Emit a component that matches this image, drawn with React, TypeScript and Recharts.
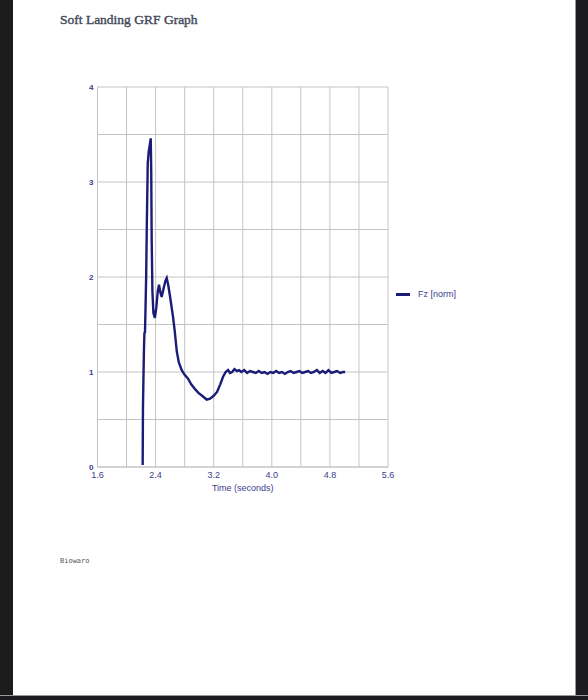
import React from 'react';
import { LineChart, Line, XAxis, YAxis, CartesianGrid } from 'recharts';

const chartTitle = 'Soft Landing GRF Graph';
const seriesName = 'Fz [norm]';
const xAxisTitle = 'Time (seconds)';
const footerText = 'Biowaro';

const timeValues = [
  2.222, 2.226, 2.232, 2.24, 2.246, 2.254, 2.262, 2.27, 2.28, 2.292, 2.305, 2.322, 2.333, 2.34, 2.346,
  2.356, 2.37, 2.39, 2.41, 2.43, 2.447, 2.465, 2.484, 2.51, 2.535, 2.553, 2.575, 2.6, 2.64, 2.665,
  2.691, 2.72, 2.76, 2.8, 2.847, 2.89, 2.943, 2.99, 3.04, 3.104, 3.15, 3.2, 3.246, 3.29, 3.329,
  3.365, 3.398, 3.425, 3.453, 3.485, 3.521, 3.55, 3.58, 3.62, 3.66, 3.7, 3.74, 3.78, 3.82, 3.86,
  3.9, 3.94, 3.98, 4.02, 4.06, 4.1, 4.14, 4.18, 4.22, 4.26, 4.3, 4.34, 4.38, 4.42, 4.46,
  4.5, 4.54, 4.58, 4.62, 4.66, 4.7, 4.74, 4.78, 4.82, 4.86, 4.9, 4.94, 4.98, 5.01,
];

const fzValues = [
  0.02, 0.63, 0.9, 1.25, 1.41, 1.42, 1.7, 2.0, 2.6, 3.2, 3.32, 3.4, 3.46, 3.1, 2.4,
  1.85, 1.62, 1.57, 1.68, 1.85, 1.92, 1.84, 1.79, 1.88, 1.96, 1.99, 1.91, 1.79, 1.58, 1.42,
  1.22, 1.1, 1.02, 0.97, 0.93, 0.87, 0.82, 0.78, 0.75, 0.71, 0.72, 0.75, 0.79, 0.87, 0.95,
  1.0, 1.02, 0.99, 1.0, 1.03, 1.01, 1.02, 1.0, 1.02, 0.99, 1.01, 1.0, 0.99, 1.01, 0.99,
  1.0, 0.98, 1.0, 0.99, 1.01, 0.99, 1.0, 0.98, 1.0, 1.01, 0.99, 1.0, 1.01, 0.99, 1.0,
  1.01, 0.99, 1.0, 1.02, 0.99, 1.01, 0.99, 1.02, 0.99, 1.0, 1.01, 0.99, 1.0, 1.0,
];

const xTicks = [1.6, 2.0, 2.4, 2.8, 3.2, 3.6, 4.0, 4.4, 4.8, 5.2, 5.6];
const xLabelTicks = [1.6, 2.4, 3.2, 4.0, 4.8, 5.6];
const yTicks = [0, 0.5, 1, 1.5, 2, 2.5, 3, 3.5, 4];
const yLabelTicks = [0, 1, 2, 3, 4];

const data = timeValues.map((t, i) => ({ t, fz: fzValues[i] }));

const tickColor = '#3c3c8e';
const lineColor = '#1b1b78';
const sansFont = 'Liberation Sans, Arial, sans-serif';

const fmtX = (v: number) => (xLabelTicks.some((l) => Math.abs(l - v) < 1e-6) ? v.toFixed(1) : '');
const fmtY = (v: number) => (yLabelTicks.some((l) => Math.abs(l - v) < 1e-6) ? String(v) : '');

export default function App() {
  return (
    <div style={{ position: 'absolute', left: 0, top: 0, width: 588, height: 700, background: '#ffffff', overflow: 'hidden' }}>
      <div style={{ position: 'absolute', left: 0, top: 0, width: 13, height: 700, background: '#1c1c1e' }} />
      <div style={{ position: 'absolute', left: 575, top: 0, width: 13, height: 700, background: '#1c1c1e', borderLeft: '1px solid #9a9a9a' }} />
      <div style={{ position: 'absolute', left: 0, top: 695, width: 588, height: 5, background: '#1c1c1e', borderTop: '1px solid #9a9a9a' }} />
      <div style={{ position: 'absolute', left: 60, top: 12, fontFamily: 'Liberation Serif, serif', fontSize: 13.5, color: '#444a5a', WebkitTextStroke: '0.4px #444a5a', whiteSpace: 'nowrap' }}>
        {chartTitle}
      </div>
      <div style={{ position: 'absolute', left: 60, top: 557, fontFamily: 'DejaVu Sans Mono, monospace', fontSize: 7, color: '#555', whiteSpace: 'nowrap' }}>
        {footerText}
      </div>
      <div style={{ position: 'absolute', left: 396, top: 289, display: 'flex', alignItems: 'center', fontFamily: sansFont, fontSize: 9, color: tickColor, whiteSpace: 'nowrap' }}>
        <div style={{ width: 14, height: 3, background: lineColor, marginRight: 8 }} />
        <span>{seriesName}</span>
      </div>
      <div style={{ position: 'absolute', left: 0, top: 0 }}>
        <LineChart width={588} height={700} data={data} margin={{ top: 87, right: 200, bottom: 203, left: 77.5 }}>
          <CartesianGrid stroke="#c4c4c4" strokeWidth={1} horizontalValues={yTicks} verticalValues={xTicks} />
          <XAxis
            dataKey="t"
            type="number"
            domain={[1.6, 5.6]}
            ticks={xTicks}
            tickFormatter={fmtX}
            interval={0}
            axisLine={{ stroke: '#c4c4c4' }}
            tickLine={false}
            tickSize={0}
            tick={{ fill: tickColor, fontSize: 9, fontFamily: sansFont }}
            tickMargin={5}
            height={30}
            label={{ value: xAxisTitle, position: 'insideBottom', offset: 6, fill: tickColor, fontSize: 9, fontFamily: sansFont }}
          />
          <YAxis
            type="number"
            domain={[0, 4]}
            ticks={yTicks}
            tickFormatter={fmtY}
            interval={0}
            axisLine={{ stroke: '#c4c4c4' }}
            tickLine={false}
            tickSize={0}
            tick={{ fill: tickColor, fontSize: 8, fontWeight: 700, fontFamily: sansFont }}
            tickMargin={4}
            width={20}
          />
          <Line
            type="linear"
            dataKey="fz"
            name={seriesName}
            stroke={lineColor}
            strokeWidth={2.4}
            dot={false}
            isAnimationActive={false}
          />
        </LineChart>
      </div>
    </div>
  );
}
